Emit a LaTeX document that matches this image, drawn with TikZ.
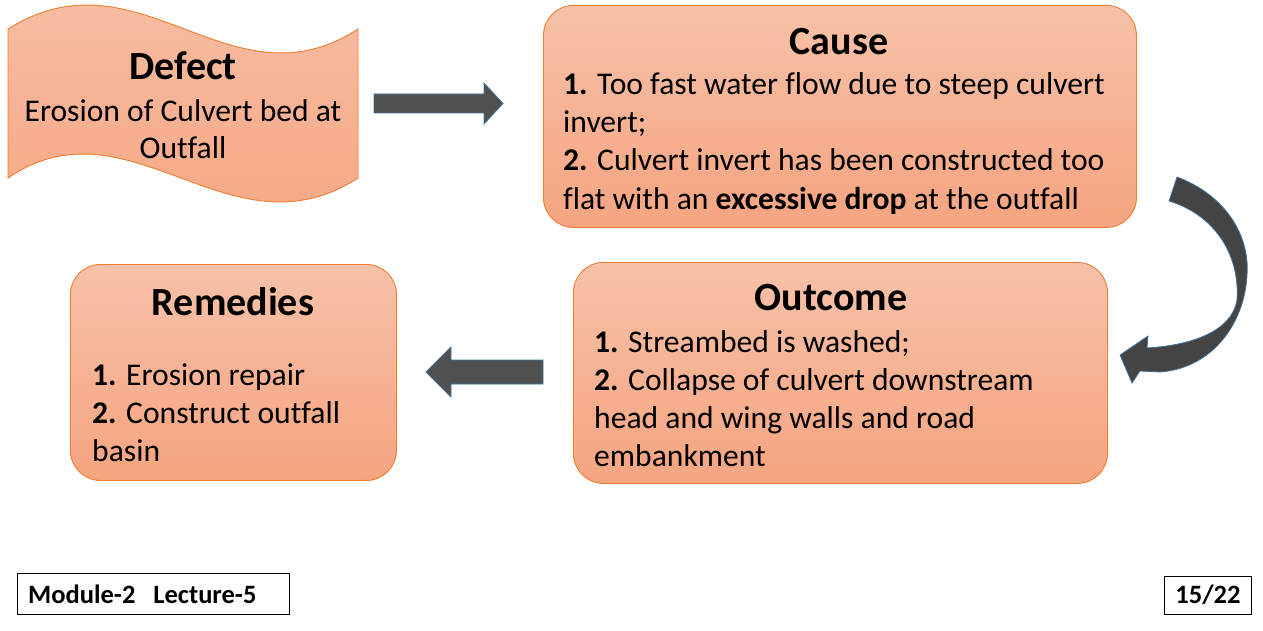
\documentclass[tikz,border=0pt]{standalone}
\usepackage{fontspec}
\setmainfont{Carlito}[Ligatures=NoCommon]
\newfontfamily\footfont{Carlito}[Ligatures=NoCommon]
\definecolor{boxtop}{RGB}{247,193,168}
\definecolor{boxbot}{RGB}{245,164,128}
\definecolor{boxline}{RGB}{237,125,49}
\definecolor{arrfill}{RGB}{80,80,80}
\definecolor{carrfill}{RGB}{68,68,68}
\definecolor{arrline}{RGB}{65,113,156}
\tikzset{
  boxstyle/.style={draw=boxline, line width=0.9pt, top color=boxtop, bottom color=boxbot, rounded corners=30pt, inner sep=0pt, anchor=north west},
  titletext/.style={inner sep=0pt, anchor=base, font=\fontsize{40}{48}\selectfont\bfseries},
  bodytext/.style={inner sep=0pt, anchor=base west, font=\fontsize{31.6}{38}\selectfont},
  ctrtext/.style={inner sep=0pt, anchor=base, font=\fontsize{31.6}{38}\selectfont},
  blockarrow/.style={fill=arrfill, draw=arrline, line width=0.8pt},
  footbox/.style={draw=black, line width=1pt, inner sep=0pt, anchor=north west},
  foottext/.style={inner sep=0pt, font=\footfont\fontsize{26.5}{32}\selectfont\bfseries}
}
\begin{document}
\begin{tikzpicture}[x=1pt,y=-1pt]
\useasboundingbox (0,0) rectangle (1263,631);
% Defect wave
\path[draw=boxline, line width=0.9pt, top color=boxtop, bottom color=boxbot]
  (8,29) .. controls (140,-54) and (230,112) .. (358,29)
  -- (358,178) .. controls (230,261) and (130,95) .. (8,178) -- cycle;
\coordinate (defect) at (183,104);
\node[titletext] (defT) at (183,80) {Defect};
\node[ctrtext] (defL1) at (183,121.5) {Erosion of Culvert bed at};
\node[ctrtext] (defL2) at (183,158.5) {Outfall};
% Cause
\node[boxstyle, minimum width=593pt, minimum height=222pt] (cause) at (543,5) {};
\node[titletext] (causeT) at (839,55) {Cause};
\node[bodytext] (c1) at (563,95) {\textbf{1.} Too fast water flow due to steep culvert};
\node[bodytext] (c2) at (563,133) {invert;};
\node[bodytext] (c3) at (563,171) {\textbf{2.} Culvert invert has been constructed too};
\node[bodytext] (c4) at (563,209) {flat with an \textbf{excessive drop} at the outfall};
% Outcome
\node[boxstyle, minimum width=534pt, minimum height=221pt] (outcome) at (573,262) {};
\node[titletext] (outT) at (831,310) {Outcome};
\node[bodytext] (o1) at (594,352) {\textbf{1.} Streambed is washed;};
\node[bodytext] (o2) at (594,390) {\textbf{2.} Collapse of culvert downstream};
\node[bodytext] (o3) at (594,428) {head and wing walls and road};
\node[bodytext] (o4) at (594,466) {embankment};
% Remedies
\node[boxstyle, minimum width=326pt, minimum height=216pt] (remedies) at (70,264) {};
\node[titletext] (remT) at (233,315) {Remedies};
\node[bodytext] (r1) at (92,385) {\textbf{1.} Erosion repair};
\node[bodytext] (r2) at (92,423) {\textbf{2.} Construct outfall};
\node[bodytext] (r3) at (92,461) {basin};
% arrows
\path[blockarrow] (374,94) -- (484,94) -- (484,83) -- (503,103.5) -- (484,124) -- (484,113) -- (374,113) -- cycle;
\path[blockarrow] (543,360) -- (451,360) -- (451,347) -- (426,372) -- (451,397) -- (451,384) -- (543,384) -- cycle;
\path[blockarrow, fill=carrfill]
  (1177,177) .. controls (1225,195) and (1250,235) .. (1247,275)
  .. controls (1245,320) and (1215,368) .. (1160,372) -- (1140,371) -- (1132,383) -- (1120,355) -- (1148,336) -- (1147,348)
  .. controls (1195,345) and (1232,330) .. (1237,300)
  .. controls (1240,255) and (1215,215) .. (1169,201) -- cycle;
% footer
\node[footbox, minimum width=272pt, minimum height=41pt] (modbox) at (17,573) {};
\node[foottext, anchor=base west] (modtxt) at (28,603) {Module-2\ \ \ Lecture-5};
\node[footbox, minimum width=87pt, minimum height=38pt] (pagebox) at (1164,576) {};
\node[foottext, anchor=base] (pagetxt) at (1208,603) {15/22};
\end{tikzpicture}
\end{document}
